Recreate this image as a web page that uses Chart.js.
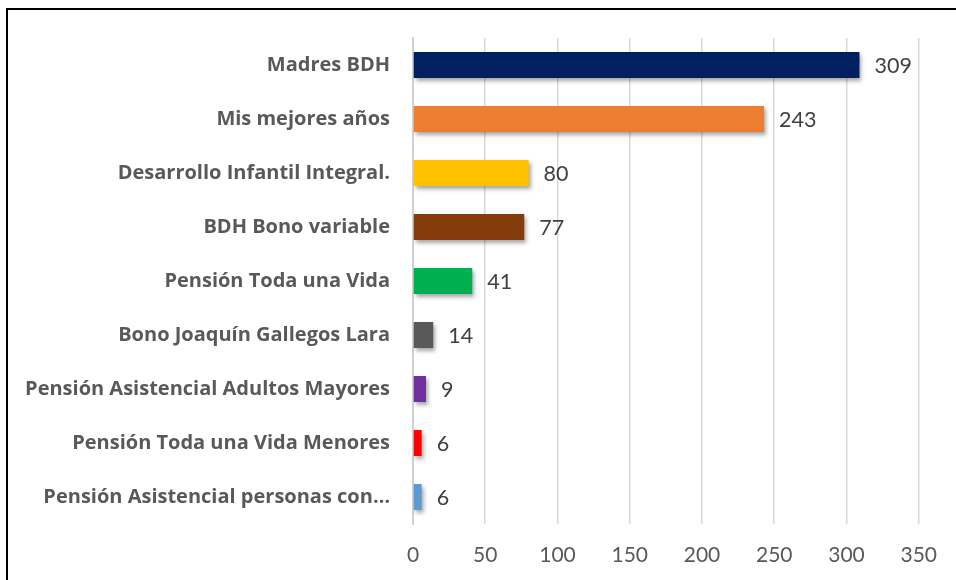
<!DOCTYPE html>
<html lang="es">
<head>
    <meta charset="UTF-8">
    <title>Programas sociales</title>
    <script src="https://cdn.jsdelivr.net/npm/chart.js"></script>
    <style>
        body { margin: 0; background: #fff; overflow: hidden; }
        #frame { position: absolute; left: 6px; top: 8px; width: 1000px; height: 1000px; border: 2px solid #000; }
        #wrap { position: absolute; left: 0; top: 0; width: 956px; height: 580px; }
    </style>
</head>
<body>
    <div id="frame"></div>
    <div id="wrap">
        <canvas id="barChart" width="956" height="580"></canvas>
    </div>

    <script>
        // Categories (top to bottom) and values
        var programas = [
            'Madres BDH',
            'Mis mejores años',
            'Desarrollo Infantil Integral.',
            'BDH Bono variable',
            'Pensión Toda una Vida',
            'Bono Joaquín Gallegos Lara',
            'Pensión Asistencial Adultos Mayores',
            'Pensión Toda una Vida Menores',
            'Pensión Asistencial personas con…'
        ];
        var valores = [309, 243, 80, 77, 41, 14, 9, 6, 6];
        var colores = ['#002060', '#ED7D31', '#FFC000', '#843C0C', '#00B050', '#595959', '#7030A0', '#FF0000', '#5B9BD5'];
        var ticksX = [0, 50, 100, 150, 200, 250, 300, 350];

        // Soft shadow under the bars, like the Excel original
        var sombra = {
            id: 'sombra',
            beforeDatasetsDraw: function (chart) {
                var ctx = chart.ctx;
                ctx.save();
                ctx.shadowColor = 'rgba(0,0,0,0.35)';
                ctx.shadowBlur = 4;
                ctx.shadowOffsetX = 2;
                ctx.shadowOffsetY = 3;
            },
            afterDatasetsDraw: function (chart) {
                var ctx = chart.ctx;
                ctx.restore();
                // value labels at the end of each bar
                var meta = chart.getDatasetMeta(0);
                ctx.save();
                ctx.font = '21.5px Lato, "Open Sans", sans-serif';
                ctx.fillStyle = '#404040';
                ctx.textAlign = 'left';
                ctx.textBaseline = 'middle';
                meta.data.forEach(function (bar, i) {
                    ctx.fillText(String(valores[i]), bar.x + 15, bar.y + 1);
                });
                ctx.restore();
            }
        };

        var ctx = document.getElementById('barChart').getContext('2d');
        var chart = new Chart(ctx, {
            type: 'bar',
            data: {
                labels: programas,
                datasets: [{
                    data: valores,
                    backgroundColor: colores,
                    borderWidth: 0,
                    categoryPercentage: 1,
                    barPercentage: 0.48
                }]
            },
            options: {
                indexAxis: 'y',
                responsive: false,
                animation: false,
                layout: { padding: { left: 10, right: 36, top: 38, bottom: 0 } },
                plugins: {
                    legend: { display: false },
                    tooltip: { enabled: false }
                },
                scales: {
                    x: {
                        min: 0,
                        max: 350,
                        afterBuildTicks: function (axis) {
                            axis.ticks = ticksX.map(function (v) { return { value: v }; });
                        },
                        afterFit: function (axis) { axis.height = 56; },
                        grid: { color: '#d9d9d9', lineWidth: 1.5, drawTicks: false },
                        border: { display: false },
                        ticks: {
                            padding: 19,
                            color: '#595959',
                            font: { family: 'Lato, "Open Sans", sans-serif', size: 21 }
                        }
                    },
                    y: {
                        afterFit: function (axis) { axis.width = 403; },
                        grid: { display: false, drawTicks: false },
                        border: { display: true, color: '#d0d0d0', width: 2 },
                        ticks: {
                            padding: 23,
                            color: '#595959',
                            font: { family: '"Open Sans", sans-serif', size: 20, weight: 'bold' }
                        }
                    }
                }
            },
            plugins: [sombra]
        });
    </script>
</body>
</html>
